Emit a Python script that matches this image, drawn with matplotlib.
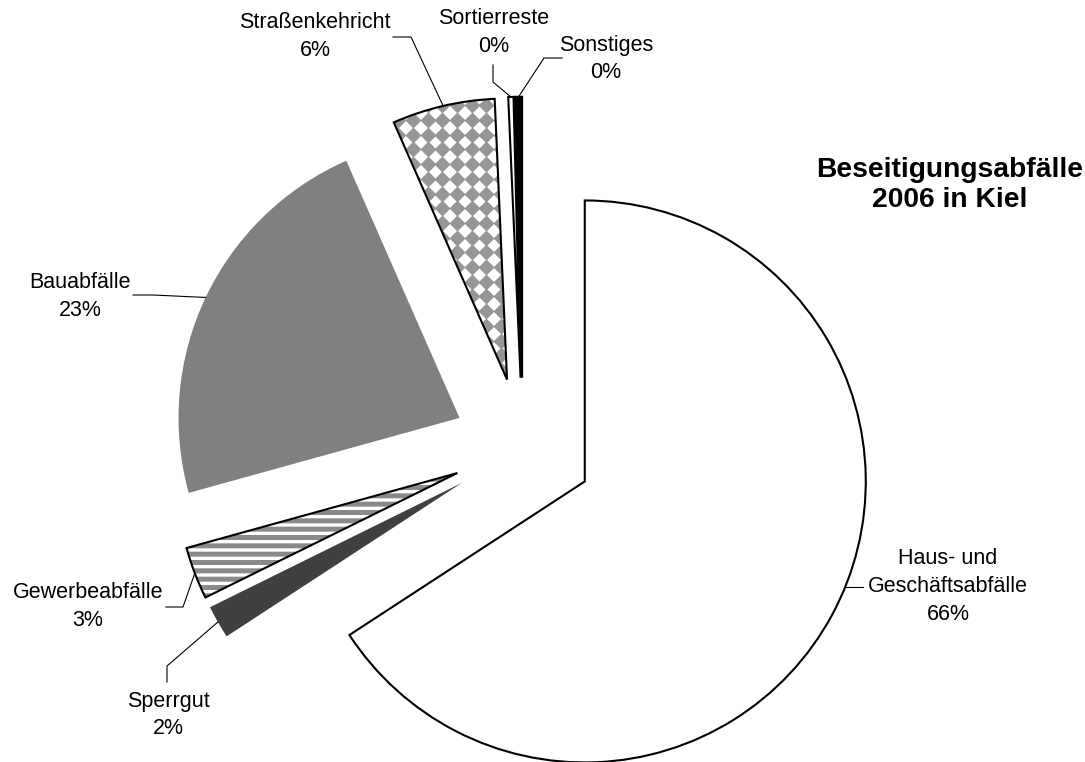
import matplotlib
matplotlib.use('Agg')
import matplotlib.pyplot as plt
from matplotlib.patches import Wedge
import numpy as np

plt.rcParams['font.family'] = ['Liberation Sans', 'DejaVu Sans']
plt.rcParams['hatch.linewidth'] = 3.6

categories = ['Haus- und\nGeschäftsabfälle', 'Sperrgut', 'Gewerbeabfälle', 'Bauabfälle',
              'Straßenkehricht', 'Sortierreste', 'Sonstiges']
shares = [65.8, 1.9, 3.0, 22.7, 5.9, 0.3, 0.4]
title = 'Beseitigungsabfälle\n2006 in Kiel'

W, H = 1085, 762
S = 281.0          # pixels per data unit (pie radius = 1)
CX, CY = 523, 448  # pie centre in pixels


def px(x, y):
    return (x - CX) / S, (CY - y) / S


fig = plt.figure(figsize=(W / 100, H / 100), dpi=100)
ax = fig.add_axes([0, 0, 1, 1])

colors = ['white', '#404040', 'white', '#808080', 'white', 'white', 'black']
wedges, _ = ax.pie(shares, startangle=90, counterclock=False, explode=[0.25] * len(shares),
                   colors=colors, wedgeprops=dict(linewidth=0))

# horizontal stripes for Gewerbeabfälle
wedges[2].set_hatch('--')
wedges[2].set_edgecolor('#8a8a8a')
wedges[2].set_linewidth(0)

# diamond pattern for Straßenkehricht
step = 14.7
gx, gy = np.meshgrid(np.arange(413 - 20 * step, 413 + 10 * step, step),
                     np.arange(120 - 5 * step, 120 + 25 * step, step))
dx, dy = px(gx.ravel(), gy.ravel())
dots, = ax.plot(dx, dy, 'D', ms=8.2, color='#969696', mec='none', zorder=2)
dots.set_clip_path(wedges[4])

# black outlines
for i in [0, 2, 4, 5, 6]:
    w = wedges[i]
    ax.add_patch(Wedge(w.center, w.r, w.theta1, w.theta2, fill=False, edgecolor='black',
                       linewidth=1.5, joinstyle='miter', zorder=3))

# labels: x centre and y of the first text row (pixels)
total = sum(shares)
label_pos = [(948, 558), (168, 701), (88, 593), (80, 282), (315, 22), (494, 18), (606, 45)]
row_gap = 28
leaders = [[(863, 587)], [(167, 682), (167, 666)], [(166, 607), (183, 607)],
           [(133, 295), (153, 295)], [(393, 37), (411, 37)], [(493, 65), (493, 82)],
           [(562, 58), (544, 58)]]

for i, w in enumerate(wedges):
    pct = round(shares[i] / total * 100)
    rows = categories[i].split('\n') + [f'{pct}%']
    x0, y0 = label_pos[i]
    for k, row in enumerate(rows):
        tx, ty = px(x0, y0 + k * row_gap)
        ax.text(tx, ty, row, ha='center', va='center', fontsize=15.5)
    pts = [px(*p) for p in leaders[i]]
    if i == 0:
        # attach where the label's row meets the arc
        yy = pts[-1][1]
        xx = w.center[0] + np.sqrt(w.r ** 2 - (yy - w.center[1]) ** 2)
    else:
        t = np.deg2rad((w.theta1 + w.theta2) / 2)
        xx = w.center[0] + w.r * np.cos(t)
        yy = w.center[1] + w.r * np.sin(t)
    pts.append((xx, yy))
    lx, ly = zip(*pts)
    ax.plot(lx, ly, color='black', linewidth=0.8, zorder=4)

tx, ty = px(950, 185)
ax.text(tx, ty, title, ha='center', va='center', fontsize=20.3, fontweight='bold',
        linespacing=1.2)

ax.set_xlim(-CX / S, (W - CX) / S)
ax.set_ylim((CY - H) / S, CY / S)
ax.set_aspect('auto')
ax.axis('off')

fig.savefig('out.png', dpi=100)
